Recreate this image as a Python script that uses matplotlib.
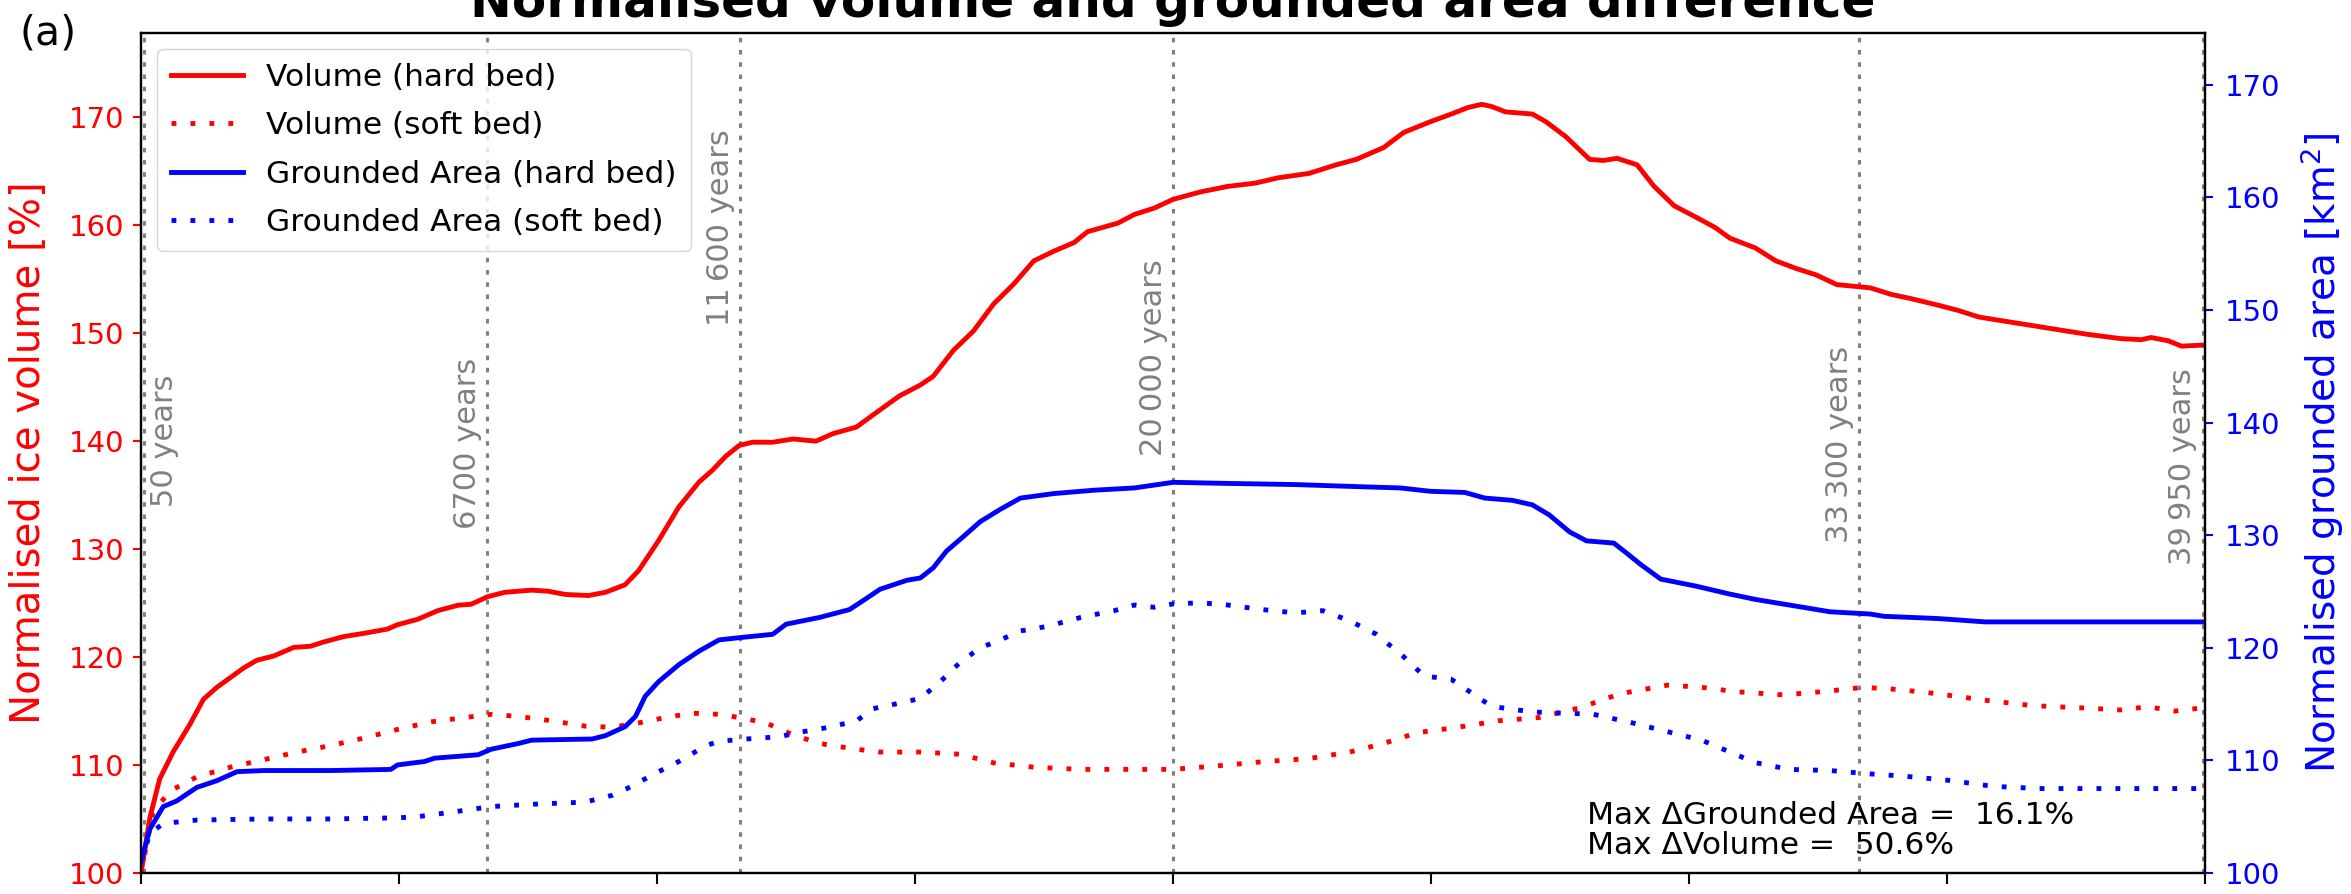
import numpy as np
import matplotlib
matplotlib.use("Agg")
import matplotlib.pyplot as plt

plt.rcParams['font.family'] = ['DejaVu Sans']

# --- data (time in years, values in %) ---
vol_hard_t = [0, 170, 360, 620, 950, 1210, 1470, 1990, 2240, 2570, 2960, 3280, 3540, 3930,
              4320, 4780, 4970, 5360, 5750, 6140, 6400, 6720, 7050, 7570, 7890, 8220, 8670,
              9000, 9380, 9640, 10030, 10420, 10810, 11070, 11330, 11590, 11850, 12240,
              12630, 13080, 13410, 13860, 14320, 14700, 15100, 15350, 15740, 16130, 16520,
              16920, 17300, 17690, 18080, 18340, 18930, 19250, 19640, 20000, 20540, 21060,
              21590, 22040, 22630, 23160, 23550, 24080, 24470, 24990, 25390, 25710, 25980,
              26170, 26440, 26960, 27220, 27610, 28070, 28340, 28600, 28990, 29320, 29710,
              30110, 30500, 30790, 31280, 31680, 32070, 32460, 32860, 33510, 33910, 34300,
              34820, 35220, 35610, 36130, 36660, 37180, 37710, 38360, 38760, 38950, 39280,
              39540, 39950]
vol_hard = [100, 105.1, 108.7, 111.2, 113.8, 116.1, 117.2, 119.0, 119.7, 120.1, 120.9, 121.0,
            121.4, 121.9, 122.2, 122.6, 123.0, 123.5, 124.3, 124.8, 124.9, 125.6, 126.0, 126.2,
            126.1, 125.8, 125.7, 126.0, 126.7, 128.0, 130.8, 133.9, 136.2, 137.3, 138.6, 139.6,
            139.9, 139.9, 140.2, 140.0, 140.7, 141.3, 142.9, 144.2, 145.2, 146.0, 148.4, 150.2,
            152.7, 154.6, 156.7, 157.6, 158.4, 159.4, 160.2, 161.0, 161.6, 162.4, 163.1, 163.6,
            163.9, 164.4, 164.8, 165.6, 166.1, 167.2, 168.6, 169.6, 170.3, 170.9, 171.2, 171.0,
            170.5, 170.3, 169.6, 168.2, 166.1, 166.0, 166.2, 165.6, 163.6, 161.8, 160.8, 159.8,
            158.8, 157.9, 156.7, 156.0, 155.4, 154.5, 154.2, 153.6, 153.2, 152.6, 152.1, 151.5,
            151.1, 150.7, 150.3, 149.9, 149.5, 149.4, 149.6, 149.3, 148.8, 148.9]

vol_soft_t = [0, 230, 560, 1080, 1730, 2380, 3020, 3670, 4320, 4970, 5620, 6270, 6790, 7310,
              7960, 8610, 9130, 9640, 10160, 10680, 11200, 11590, 12110, 12630, 13150, 13800,
              14320, 15100, 15870, 16520, 17300, 18210, 19250, 20000, 20800, 21720, 22630,
              23420, 24080, 24730, 25520, 26300, 27090, 27880, 28660, 29580, 30240, 30890,
              31810, 32600, 33380, 34040, 34820, 35740, 36660, 37580, 38360, 38890, 39410, 39950]
vol_soft = [100, 105.6, 107.6, 108.9, 109.8, 110.5, 111.2, 111.8, 112.5, 113.3, 114.0, 114.4,
            114.7, 114.5, 114.1, 113.6, 113.5, 113.9, 114.4, 114.8, 114.7, 114.4, 113.9, 112.8,
            112.0, 111.5, 111.2, 111.2, 111.0, 110.2, 109.8, 109.6, 109.6, 109.6, 109.9, 110.3,
            110.6, 111.2, 112.0, 113.0, 113.5, 114.1, 114.4, 115.3, 116.6, 117.4, 117.2, 116.8,
            116.5, 116.8, 117.2, 117.0, 116.6, 116.0, 115.5, 115.3, 115.1, 115.4, 115.0, 115.3]

area_hard_t = [0, 170, 430, 690, 1080, 1470, 1860, 2380, 3670, 4840, 4970, 5490, 5690, 6530,
               6790, 7310, 7570, 8740, 9000, 9380, 9580, 9770, 10030, 10420, 10810, 11200,
               11590, 12240, 12500, 13150, 13730, 14060, 14320, 14840, 15100, 15350, 15610,
               15940, 16260, 16650, 17040, 17690, 18470, 19250, 20000, 21060, 22370, 23680,
               24400, 24990, 25650, 26040, 26570, 26960, 27290, 27680, 28010, 28540, 28790,
               29060, 29450, 30110, 30760, 31280, 31940, 32730, 33510, 33770, 34820, 35740,
               38100, 39950]
area_hard = [101.0, 103.9, 105.9, 106.4, 107.6, 108.2, 109.0, 109.1, 109.1, 109.2, 109.6, 109.9,
             110.2, 110.5, 111.0, 111.5, 111.8, 111.9, 112.2, 113.0, 113.9, 115.7, 117.0, 118.5,
             119.7, 120.7, 120.9, 121.2, 122.1, 122.7, 123.4, 124.4, 125.2, 126.0, 126.2, 127.1,
             128.6, 129.9, 131.2, 132.3, 133.3, 133.7, 134.0, 134.2, 134.7, 134.6, 134.5, 134.3,
             134.2, 133.9, 133.8, 133.3, 133.1, 132.7, 131.8, 130.3, 129.5, 129.3, 128.4, 127.4,
             126.1, 125.5, 124.8, 124.3, 123.8, 123.2, 123.0, 122.8, 122.6, 122.3, 122.3, 122.3]

area_soft_t = [0, 170, 430, 1080, 2380, 3670, 4970, 5360, 6010, 6790, 7570, 8610, 9130, 9510,
               9900, 10420, 10940, 11200, 11720, 12370, 12760, 13280, 13860, 14190, 14710,
               15100, 15490, 15870, 16260, 16650, 17040, 17560, 18210, 18860, 19250, 19640,
               20000, 20540, 21060, 21720, 22370, 22900, 23420, 23940, 24470, 24860, 25390,
               25780, 26170, 26960, 28140, 28930, 29710, 30240, 30760, 31280, 31940, 32730,
               33510, 34170, 35090, 35870, 36790, 39950]
area_soft = [101.0, 103.5, 104.4, 104.7, 104.8, 104.8, 104.9, 105.0, 105.4, 105.9, 106.1, 106.3,
             106.9, 107.7, 108.7, 109.9, 111.3, 111.7, 111.9, 112.1, 112.5, 112.9, 113.5, 114.6,
             115.1, 115.5, 117.0, 118.7, 120.0, 120.7, 121.5, 121.9, 122.7, 123.3, 123.8, 123.6,
             123.9, 124.0, 123.8, 123.4, 123.1, 123.3, 122.4, 121.2, 119.2, 117.5, 117.2, 116.0,
             114.8, 114.3, 114.1, 113.3, 112.4, 111.8, 110.8, 109.8, 109.2, 109.1, 108.8, 108.6,
             108.2, 107.7, 107.5, 107.5]

marker_years = [50, 6700, 11600, 20000, 33300, 39950]
marker_labels = ['50 years', '6700 years', '11\u2009600 years', '20\u2009000 years',
                 '33\u2009300 years', '39\u2009950 years']
max_d_area = 16.1
max_d_volume = 50.6

# label placement (left-axis units) for the marker texts
marker_label_y = [133.9, 131.9, 150.7, 138.6, 130.6, 128.5]

fig = plt.figure(figsize=(23.51, 8.94), dpi=100)
ax = fig.add_axes([0.060, 0.0235, 0.878, 0.9395])
ax2 = ax.twinx()

lw = 3.5
dots = (1, 2.9)
ax.plot(vol_hard_t, vol_hard, color='red', lw=lw, label='Volume (hard bed)')
ax.plot(vol_soft_t, vol_soft, color='red', lw=lw, linestyle=(0, dots), label='Volume (soft bed)')
ax2.plot(area_hard_t, area_hard, color='blue', lw=lw, label='Grounded Area (hard bed)')
ax2.plot(area_soft_t, area_soft, color='blue', lw=lw, linestyle=(0, dots),
         label='Grounded Area (soft bed)')

for yr, lab, ly in zip(marker_years, marker_labels, marker_label_y):
    ax.axvline(yr, color='grey', lw=2.2, linestyle=(0, (1.5, 2.5)), zorder=0)
    if yr < 1000:
        ax.text(yr + 120, ly, lab, rotation=90, color='grey', fontsize=22,
                ha='left', va='bottom')
    else:
        ax.text(yr - 100, ly, lab, rotation=90, color='grey', fontsize=22,
                ha='right', va='bottom')

ax.set_xlim(0, 40000)
ax.set_xticks(np.arange(0, 40001, 5000))
ax.set_xticklabels([])
ax.set_ylim(100, 177.8)
ax.set_yticks(np.arange(100, 171, 10))
ax2.set_ylim(100, 174.6)
ax2.set_yticks(np.arange(100, 171, 10))

ax.tick_params(axis='y', colors='red', labelsize=21, length=6, width=1.5, pad=6)
ax2.tick_params(axis='y', colors='blue', labelsize=21, length=6, width=1.5, pad=8)
ax.tick_params(axis='x', length=8, width=1.5)
for a in (ax, ax2):
    for s in a.spines.values():
        s.set_linewidth(1.6)

ax.set_ylabel('Normalised ice volume [%]', color='red', fontsize=29)
ax2.set_ylabel('Normalised grounded area [km$^2$]', color='blue', fontsize=28)
ax.yaxis.label.set_va('center')
ax2.yaxis.label.set_va('center')
ax.yaxis.set_label_coords(-0.0543, 0.5)
ax2.yaxis.set_label_coords(1.0567, 0.5)

h1, l1 = ax.get_legend_handles_labels()
h2, l2 = ax2.get_legend_handles_labels()
ax2.legend(h1 + h2, l1 + l2, loc='upper left', fontsize=22.5, labelspacing=0.62,
           handlelength=2.3, handletextpad=0.75, borderpad=0.45,
           bbox_to_anchor=(0.0, 1.0))

ax.text(0.7006, 0.015,
        f'Max \u0394Grounded Area =  {max_d_area}%\nMax \u0394Volume =  {max_d_volume}%',
        transform=ax.transAxes, fontsize=22.5, ha='left', va='bottom', linespacing=1.05,
        zorder=5)

fig.text(0.499, 0.981, 'Normalised volume and grounded area difference',
         ha='center', va='baseline', fontsize=36, fontweight='bold')
fig.text(0.0085, 0.963, '(a)', ha='left', va='center', fontsize=29.5)

fig.savefig('out.png', dpi=100)
